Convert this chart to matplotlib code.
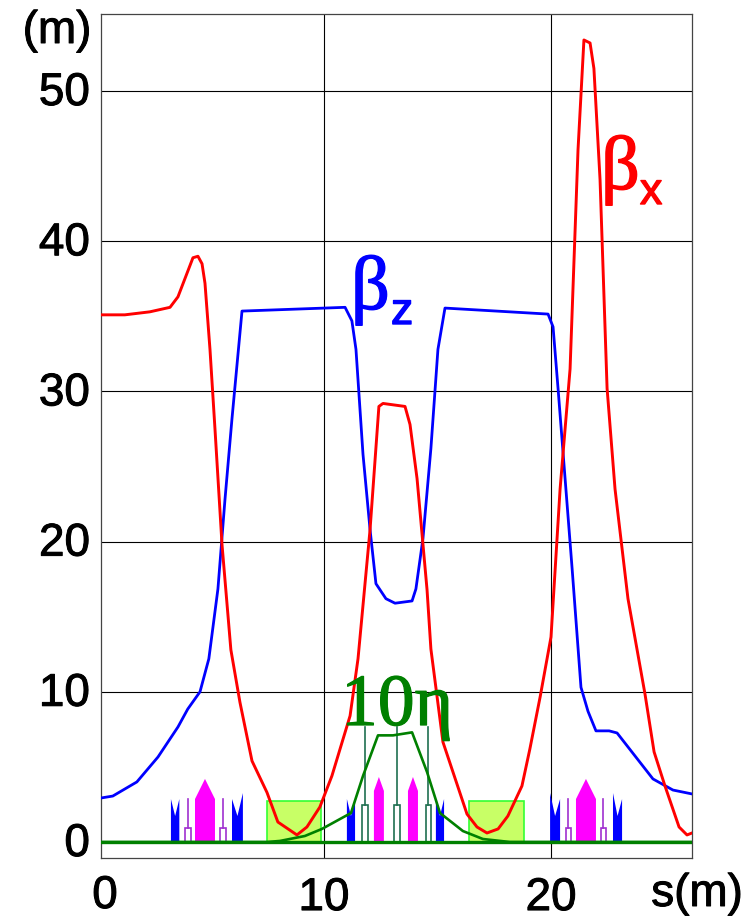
"""Beta functions and dispersion along the ring cell, with the magnet layout."""
import matplotlib
matplotlib.use('Agg')
import matplotlib.pyplot as plt
import matplotlib.patheffects as pe
from matplotlib.patches import Polygon, Rectangle
from matplotlib.transforms import ScaledTranslation

# curves, s in metres
s_bx = [0.18, 1.23, 2.33, 3.22, 3.57, 4.23, 4.45, 4.63, 4.76, 4.98, 5.2, 5.51, 5.9, 6.3,
        6.83, 7.49, 7.97, 8.81, 9.25, 9.82, 10.35, 11.15, 11.5, 12.03, 12.42, 12.6,
        13.57, 13.79, 14.1, 14.54, 14.71, 15.24, 16.3, 16.74, 17.18, 17.67, 18.1, 18.72,
        19.07, 19.52, 20.0, 20.4, 20.84, 21.19, 21.45, 21.72, 21.89, 22.16, 22.47, 22.82,
        23.39, 24.14, 24.54, 25.02, 25.64, 25.99, 26.21]
beta_x = [35.1, 35.1, 35.3, 35.6, 36.3, 38.9, 39.0, 38.5, 37.2, 32.8, 27.5, 19.8, 12.8, 9.3,
          5.4, 3.3, 1.33, 0.47, 1.0, 2.33, 4.4, 8.4, 12.2, 20.8, 29.0, 29.2,
          29.0, 27.8, 24.2, 16.8, 12.85, 6.66, 1.86, 1.0, 0.6, 0.87, 1.73, 3.73,
          6.2, 9.65, 13.65, 23.5, 31.5, 46.1, 53.4, 53.2, 51.5, 44.1, 30.2, 23.5,
          16.2, 9.85, 6.0, 3.73, 1.0, 0.47, 0.6]

s_bz = [0.18, 0.7, 1.76, 2.69, 3.57, 4.0, 4.54, 4.93, 5.33, 5.64, 5.95, 6.39, 10.93, 11.23,
        11.41, 11.72, 12.03, 12.29, 12.73, 13.13, 13.88, 14.05, 14.36, 14.71, 15.02, 15.33,
        19.87, 20.09, 20.31, 20.62, 20.93, 21.32, 21.63, 21.98, 22.56, 22.91, 24.49, 25.37,
        26.21]
beta_z = [2.93, 3.06, 4.0, 5.66, 7.66, 8.85, 10.0, 12.2, 16.85, 22.8, 28.2, 35.35, 35.6, 34.7,
          32.8, 25.8, 20.8, 17.2, 16.2, 15.9, 16.05, 16.85, 20.2, 26.2, 32.8, 35.55,
          35.15, 34.3, 30.2, 24.2, 18.2, 10.3, 8.7, 7.4, 7.4, 7.26, 4.2, 3.46,
          3.2]

s_eta = [0.18, 7.49, 8.06, 9.16, 9.91, 11.19, 11.72, 12.38, 13.04, 13.88, 14.54, 15.11,
         16.12, 17.0, 18.19, 26.21]
eta_10 = [0, 0, 0.07, 0.4, 0.87, 1.93, 4.4, 7.1, 7.1, 7.3, 4.66, 1.93,
          0.73, 0.2, 0, 0]

# magnet layout: (start, end) and heights
dipole_s = [(3.26, 3.63), (5.95, 6.43), (11.01, 11.37), (14.93, 15.29), (19.96, 20.4), (22.73, 23.13)]
dipole_tops = [(2.86, 2.86), (2.86, 3.26), (2.86, 2.86), (2.86, 2.86), (3.26, 2.86), (3.26, 2.86)]
dipole_notch = 1.73
quad_s = [(4.32, 5.2), (12.2, 12.64), (13.7, 14.14), (21.1, 21.98)]
quad_shoulder = [2.86, 3.4, 3.4, 2.86]
quad_peak = [4.2, 4.33, 4.33, 4.2]
sext_s = [(3.88, 4.14), (5.42, 5.68), (20.66, 20.88), (22.2, 22.42)]
sext_stem = 2.86
sext_box = 0.93
mid_s = [(11.67, 11.94), (13.08, 13.35), (14.49, 14.71)]
mid_stem = 7.66
mid_box = 2.46
straight_s = [(7.49, 9.87), (16.39, 18.81)]
straight_top = 2.73

y_ticks = [0, 10, 20, 30, 40, 50]
x_ticks = [10, 20]

sans = 'Liberation Sans'
serif = 'Liberation Serif'


def thick(color='black', w=0.7):
    return [pe.withStroke(linewidth=w, foreground=color)]


fig = plt.figure(figsize=(7.51, 9.2), dpi=100)
ax = fig.add_axes([101 / 751, 1 - 859 / 920, 591 / 751, 844 / 920])
ax.set_xlim(0.18, 26.21)
ax.set_ylim(-1.065, 55.13)

ax.set_xticks(x_ticks)
ax.set_yticks(y_ticks)
ax.grid(True, color='black', lw=0.8, zorder=1)
ax.set_axisbelow(True)
ax.tick_params(length=0, labelsize=33, pad=8)
ax.tick_params(axis='x', pad=13)
shift = ScaledTranslation(0, 3 / 100, fig.dpi_scale_trans)
for lab in ax.get_yticklabels():
    lab.set_family(sans)
    lab.set_transform(lab.get_transform() + shift)
    lab.set_path_effects(thick())
for lab in ax.get_xticklabels():
    lab.set_family(sans)
    lab.set_path_effects(thick())
for sp in ax.spines.values():
    sp.set_linewidth(0.9)
    sp.set_color('#444444')

for (a, b) in straight_s:
    ax.add_patch(Rectangle((a, 0), b - a, straight_top, fc='#c8ff66', ec='#33ff33', lw=1.2, zorder=2))

for (a, b), (t1, t2) in zip(dipole_s, dipole_tops):
    w = b - a
    ax.add_patch(Polygon([(a, 0), (a, t1), (a + 0.5 * w, dipole_notch), (b, t2), (b, 0)],
                         fc='#0000ff', ec='none', zorder=3))

for (a, b), sh, pk in zip(quad_s, quad_shoulder, quad_peak):
    ax.add_patch(Polygon([(a, 0), (a, sh), ((a + b) / 2, pk), (b, sh), (b, 0)],
                         fc='#ff00ff', ec='none', zorder=3))

for (a, b) in sext_s:
    ax.add_patch(Rectangle((a, 0), b - a, sext_box, fc='none', ec='#a030d0', lw=1.2, zorder=3))
    ax.plot([(a + b) / 2] * 2, [sext_box, sext_stem], color='#a030d0', lw=1.2, zorder=3)

for (a, b) in mid_s:
    ax.add_patch(Rectangle((a, 0), b - a, mid_box, fc='none', ec='#1f6f50', lw=1.2, zorder=3))
    ax.plot([(a + b) / 2] * 2, [mid_box, mid_stem], color='#1f6f50', lw=1.2, zorder=3)

ax.plot(s_bz, beta_z, color='#0000ff', lw=2.0, zorder=4)
ax.plot(s_bx, beta_x, color='#ff0000', lw=2.1, zorder=5)
ax.plot(s_eta, eta_10, color='#008000', lw=1.9, zorder=6)
ax.plot([0.18, 26.21], [0, 0], color='#008000', lw=2.4, zorder=6)


# labels sit in figure pixels, they are not tied to the data
def put(x, y, txt, **kw):
    fig.text(x / 751, 1 - y / 920, txt, **kw)


put(105, 897, '0', family=sans, fontsize=33, ha='center', va='center', path_effects=thick())
put(697, 895, 's(m)', family=sans, fontsize=33, ha='center', va='center', path_effects=thick())
put(57, 32, '(m)', family=sans, fontsize=33, ha='center', va='center', path_effects=thick())

red = thick('#ff0000', 1.0)
blue = thick('#0000ff', 1.0)
put(601, 190, '\u03b2', family=serif, color='#ff0000', fontsize=55, ha='left', va='baseline', path_effects=red)
put(640, 205, 'x', family=sans, color='#ff0000', fontsize=32, ha='left', va='baseline', path_effects=red)
put(351, 310, '\u03b2', family=serif, color='#0000ff', fontsize=55, ha='left', va='baseline', path_effects=blue)
put(391, 325, 'z', family=sans, color='#0000ff', fontsize=32, ha='left', va='baseline', path_effects=blue)
put(341, 726, '10\u03b7', family=serif, color='#008000', fontsize=53, ha='left', va='baseline', zorder=8,
    path_effects=thick('#008000', 0.9))

fig.savefig('out.png', dpi=100)
